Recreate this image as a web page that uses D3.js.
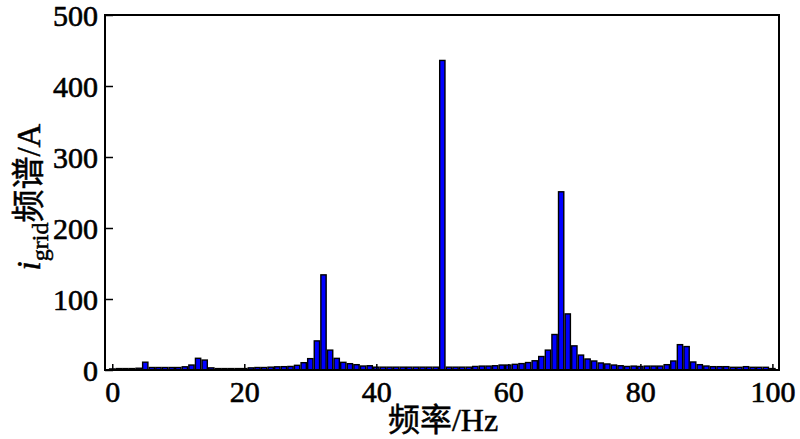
<!DOCTYPE html>
<html>
<head>
<meta charset="utf-8">
<script src="https://cdn.jsdelivr.net/npm/d3@7"></script>
<style>
  html, body { margin: 0; padding: 0; background: #fff; }
  svg { display: block; }
</style>
</head>
<body>
<svg id="chart" width="800" height="439"></svg>
<script>
// Frequencies (Hz) and spectrum amplitude (A)
const frequencies = d3.range(0, 101);
const amplitudes = [
  1.5, 2, 2, 2, 2.5, 11, 3.5, 3.5, 3.5, 3.5,      // 0-9
  3.5, 4.5, 7, 16.5, 14, 3, 2, 2, 2, 2,           // 10-19
  2, 3, 3.5, 3.5, 4, 4.5, 4.7, 5, 6.6, 10.3,      // 20-29
  16, 41, 134, 28, 16.4, 10.8, 8.9, 7.5, 5.6, 6,  // 30-39
  4, 4, 4, 4, 4, 4, 4, 4, 4, 4,                   // 40-49
  436, 4, 4, 4, 4, 5, 5.5, 5.5, 6, 7,             // 50-59
  7, 8, 9, 10.5, 13, 19, 28, 50, 251, 79,         // 60-69
  34, 21, 15.5, 12.7, 9.9, 8.5, 7, 6, 5, 5.5,     // 70-79
  5, 5.5, 5.5, 5.5, 7.5, 12.7, 35.7, 33, 11.3, 7.5, // 80-89
  5.6, 4.7, 4.7, 4.7, 3.8, 3.8, 4.7, 3.8, 3.8, 3.8, // 90-99
  2                                               // 100
];
const xTicks = [0, 20, 40, 60, 80, 100];
const yTicks = [0, 100, 200, 300, 400, 500];

const svg = d3.select("#chart");
const mLeft = 105, mRight = 779, mTop = 15, mBottom = 370;

const x = d3.scaleLinear().domain([-1.1, 101]).range([mLeft, mRight]);
const y = d3.scaleLinear().domain([0, 500]).range([mBottom, mTop]);

const barW = (x(1) - x(0)) * 0.8;
const data = frequencies.map((f, i) => ({ f, v: amplitudes[i] }));

// bars
svg.append("g")
  .selectAll("rect")
  .data(data)
  .join("rect")
  .attr("x", d => x(d.f) - barW / 2)
  .attr("y", d => y(d.v))
  .attr("width", barW)
  .attr("height", d => y(0) - y(d.v))
  .attr("fill", "#0000ff")
  .attr("stroke", "#000")
  .attr("stroke-width", 1.4);

const serif = "'Liberation Serif', 'Times New Roman', serif";
const cjk = "'Noto Sans CJK SC', sans-serif";

// x axis (ticks inward)
const xAxis = svg.append("g")
  .attr("transform", `translate(0,${mBottom})`)
  .call(d3.axisBottom(x).tickValues(xTicks).tickSizeInner(-6).tickSizeOuter(0).tickPadding(10));
xAxis.select(".domain").remove();
xAxis.selectAll(".tick line").attr("stroke", "#000").attr("stroke-width", 1.5);
xAxis.selectAll(".tick text")
  .attr("font-family", serif).attr("font-size", 30).attr("fill", "#000")
  .attr("stroke", "#000").attr("stroke-width", 0.6)
  .attr("dy", "0.72em");

// y axis (ticks inward)
const yAxis = svg.append("g")
  .attr("transform", `translate(${mLeft},0)`)
  .call(d3.axisLeft(y).tickValues(yTicks).tickSizeInner(-8).tickSizeOuter(0).tickPadding(7));
yAxis.select(".domain").remove();
yAxis.selectAll(".tick line").attr("stroke", "#000").attr("stroke-width", 1.5);
yAxis.selectAll(".tick text")
  .attr("font-family", serif).attr("font-size", 30).attr("fill", "#000")
  .attr("stroke", "#000").attr("stroke-width", 0.6)
  .attr("dy", "0.34em");

// frame
svg.append("rect")
  .attr("x", mLeft).attr("y", mTop)
  .attr("width", mRight - mLeft).attr("height", mBottom - mTop)
  .attr("fill", "none").attr("stroke", "#000").attr("stroke-width", 2);

// x title
svg.append("text")
  .attr("x", 443).attr("y", 431)
  .attr("text-anchor", "middle")
  .attr("font-family", serif).attr("font-size", 32).attr("fill", "#000")
  .attr("stroke", "#000").attr("stroke-width", 0.5)
  .call(t => {
    t.append("tspan").attr("font-family", cjk).attr("font-size", 32).text("频率");
    t.append("tspan").text("/Hz");
  });

// y title
svg.append("text")
  .attr("transform", "translate(40,197) rotate(-90)")
  .attr("text-anchor", "middle")
  .attr("font-family", serif).attr("font-size", 33).attr("fill", "#000")
  .attr("stroke", "#000").attr("stroke-width", 0.5)
  .call(t => {
    t.append("tspan").attr("font-style", "italic").text("i");
    t.append("tspan").attr("font-size", 24).attr("dy", 8).text("grid");
    t.append("tspan").attr("dy", -8).attr("font-family", cjk).attr("font-size", 33).text("频谱");
    t.append("tspan").text("/A");
  });
</script>
</body>
</html>
